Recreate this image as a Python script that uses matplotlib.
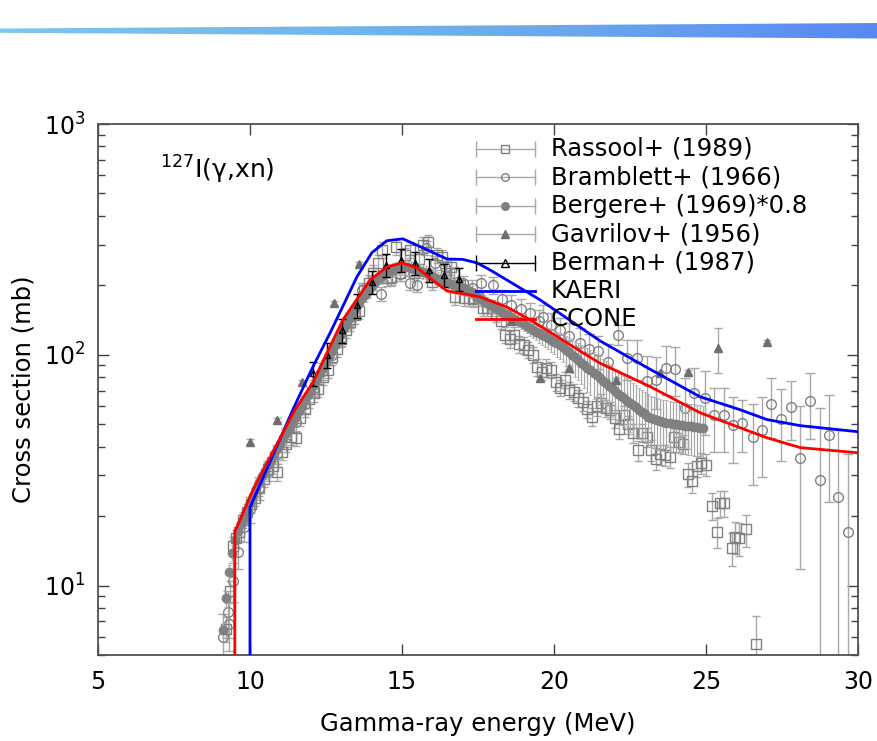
import numpy as np
import matplotlib
matplotlib.use("Agg")
import matplotlib.pyplot as plt
from matplotlib.patches import Polygon

plt.rcParams['font.family'] = ['DejaVu Sans']
plt.rcParams['mathtext.fontset'] = 'dejavusans'

# ---- evaluated curves ----
kaeri_e = [10.0, 10.0, 11.41, 11.87, 12.07, 12.63, 13.52, 14.01, 14.5, 15.03, 15.6, 16.48, 17.0, 17.47, 17.9,
           19.54, 21.51, 23.06, 24.8, 26.12, 27.0, 28.1, 30.0]
kaeri_xs = [1.0, 21.8, 57.8, 78.0, 88.7, 124.0, 218.0, 277.0, 312.0, 318.0, 294.0, 260.0, 259.0, 250.0, 233.0,
            173.0, 115.0, 88.0, 65.8, 57.8, 52.4, 49.3, 46.4]

ccone_e = [9.5, 9.5, 10.1, 11.48, 12.07, 12.53, 13.06, 13.95, 14.5, 15.0, 15.5, 15.92, 16.48, 17.0, 17.57,
           18.45, 19.2, 20.1, 20.95, 21.51, 23.16, 24.8, 27.0, 28.1, 30.0]
ccone_xs = [1.0, 17.1, 26.0, 57.8, 75.7, 102.0, 142.0, 211.0, 240.0, 250.0, 238.0, 215.0, 189.0, 184.0, 178.0,
            161.0, 142.0, 120.0, 102.0, 92.0, 72.8, 56.1, 43.7, 39.6, 37.6]

# ---- Rassool+ (1989) ----
rassool_e = [9.2, 9.35, 9.45, 9.55, 9.65, 9.78, 9.9, 10.02, 10.15, 10.3, 10.45, 10.6, 10.75, 10.9, 11.05, 11.2,
             11.35, 11.5, 11.65, 11.8, 11.95, 12.1, 12.25, 12.4, 12.55, 12.7, 12.85, 13.0, 13.15, 13.3, 13.45,
             13.6, 13.75, 13.9, 14.05, 14.2, 14.35, 14.5, 14.65, 14.8, 14.95, 15.1, 15.25, 15.4, 15.55, 15.7,
             15.85, 16.0, 16.15, 16.3, 16.45, 16.6, 16.75, 16.9, 17.05, 17.2, 17.35, 17.5, 17.65, 17.8, 17.95,
             18.1, 18.25, 18.4, 18.55, 18.7, 18.85, 19.0, 19.15, 19.3, 19.45, 19.6, 19.75, 19.9, 20.05, 20.2,
             20.35, 20.5, 20.65, 20.8, 20.95, 21.1, 21.25, 21.4, 21.55, 21.7, 21.85, 22.0, 22.15, 22.3, 22.45,
             22.6, 22.75, 22.9, 23.05, 23.2, 23.35, 23.5, 23.65, 23.8, 23.95, 24.1, 24.25, 24.4, 24.55, 24.7,
             24.85, 25.0, 25.2, 25.35, 25.45, 25.6, 25.85, 25.95, 26.1, 26.3, 26.65]
rassool_xs = [6.5, 9.5, 14.9, 16.0, 17.1, 19.3, 20.9, 22.5, 24.0, 26.5, 29.0, 32.0, 33.0, 31.0, 38.0, 41.0,
              44.0, 43.5, 53.0, 58.0, 64.0, 68.0, 71.0, 80.0, 86.0, 98.0, 106.0, 117.0, 128.0, 138.0, 148.0,
              155.0, 190.0, 205.0, 226.0, 250.0, 285.0, 215.0, 215.0, 294.0, 226.0, 270.0, 285.0, 226.0, 260.0, 300.0,
              308.0, 207.0, 270.0, 265.0, 225.0, 240.0, 178.0, 200.0, 177.0, 177.0, 175.0, 177.0, 160.0, 160.0, 160.0,
              150.0, 140.0, 122.0, 117.0, 122.0, 111.0, 110.0, 105.0, 100.0, 88.7, 84.5, 88.0, 86.0, 76.0, 72.0,
              78.0, 70.5, 69.0, 65.0, 62.7, 58.0, 54.0, 60.0, 62.0, 58.6, 57.5, 53.0, 47.5, 55.0, 50.0,
              45.6, 38.5, 46.0, 44.0, 38.8, 35.5, 37.0, 36.9, 36.0, 44.0, 42.0, 41.0, 30.3, 28.5, 33.0,
              34.0, 33.4, 22.2, 17.1, 22.8, 22.8, 14.5, 16.3, 16.0, 17.5, 5.6]
rassool_err = [0.8, 1.0, 1.3, 1.4, 1.5, 1.6, 1.7, 1.8, 1.9, 2.1, 2.3, 2.5, 2.6, 2.5, 3.0, 3.2,
               3.4, 3.4, 4.1, 4.5, 5.0, 5.3, 5.5, 6.2, 6.7, 7.6, 8.2, 9.0, 10.0, 11.0, 12.0,
               12.0, 15.0, 16.0, 18.0, 20.0, 22.0, 17.0, 17.0, 23.0, 18.0, 21.0, 22.0, 18.0, 20.0, 23.0,
               24.0, 16.0, 21.0, 20.0, 18.0, 19.0, 14.0, 16.0, 14.0, 14.0, 14.0, 14.0, 13.0, 13.0, 13.0,
               12.0, 11.0, 10.0, 9.5, 10.0, 9.0, 9.0, 8.5, 8.0, 7.5, 7.0, 7.5, 7.0, 6.5, 6.0,
               6.5, 6.0, 6.0, 5.5, 5.5, 5.0, 5.0, 5.5, 5.5, 5.0, 5.0, 4.8, 4.5, 5.0, 4.5,
               4.3, 4.0, 4.3, 4.2, 4.0, 3.8, 3.8, 3.8, 3.8, 4.2, 4.0, 4.0, 3.5, 3.4, 3.6,
               3.6, 3.6, 3.0, 2.6, 3.0, 3.0, 2.4, 2.6, 2.6, 2.8, 1.8]

# ---- Bramblett+ (1966) ----
bramblett_e = [9.1, 9.28, 9.32, 9.45, 9.6, 9.8, 10.0, 10.3, 10.6, 10.9, 11.2, 11.5, 11.8, 12.1, 12.4, 12.7,
               13.0, 13.3, 13.7, 14.0, 14.3, 14.65, 14.95, 15.25, 15.5, 15.8, 16.1, 16.4, 16.7, 17.0, 17.3,
               17.6, 18.0, 18.3, 18.6, 18.9, 19.2, 19.5, 19.65, 19.9, 20.2, 20.5, 20.86, 21.15, 21.45, 21.78,
               22.1, 22.4, 22.73, 23.06, 23.36, 23.7, 23.98, 24.3, 24.62, 24.97, 25.26, 25.6, 25.9, 26.2,
               26.55, 26.84, 27.14, 27.47, 27.8, 28.1, 28.42, 28.75, 29.05, 29.34, 29.67]
bramblett_xs = [6.0, 7.7, 6.8, 10.5, 14.0, 18.0, 21.5, 26.5, 31.5, 37.0, 44.0, 51.0, 61.0, 72.0, 85.0, 100.0,
                118.0, 140.0, 191.0, 205.0, 184.0, 215.0, 224.0, 205.0, 201.0, 290.0, 250.0, 240.0, 225.0, 205.0, 195.0,
                205.0, 201.0, 175.0, 165.0, 158.0, 152.0, 140.0, 146.0, 135.0, 128.0, 120.0, 113.0, 106.0, 104.0, 93.0,
                122.0, 97.0, 97.0, 77.0, 78.0, 88.0, 87.0, 59.0, 68.0, 65.0, 55.0, 55.0, 49.8, 50.8,
                44.2, 47.4, 61.4, 52.8, 59.6, 35.8, 63.0, 28.8, 45.0, 24.3, 17.0]
bramblett_err = [1.5, 1.8, 1.6, 2.0, 2.2, 2.5, 2.8, 3.0, 3.2, 3.5, 4.0, 4.5, 5.0, 6.0, 7.0, 8.0,
                 9.0, 10.0, 13.0, 14.0, 13.0, 15.0, 15.0, 14.0, 14.0, 20.0, 17.0, 16.0, 16.0, 15.0, 15.0,
                 16.0, 17.0, 16.0, 16.0, 16.0, 16.0, 16.0, 18.0, 17.0, 17.0, 17.0, 17.0, 17.0, 17.0, 18.0,
                 12.0, 19.0, 19.0, 22.0, 20.0, 21.0, 21.0, 20.0, 20.0, 20.0, 17.0, 17.0, 16.0, 13.0,
                 17.0, 18.0, 18.0, 18.0, 17.0, 24.0, 20.0, 30.0, 22.0, 23.0, 20.0]

# ---- Bergere+ (1969), scaled by 0.8 (0.1 MeV steps from 9.1 to 24.9) ----
bergere_e = np.round(np.arange(9.1, 24.95, 0.1), 1)
bergere_xs = [6.4, 8.8, 11.4, 13.9, 15.8, 17.2, 18.5, 19.7, 21.0,
              22.7, 24.5, 26.2, 28.0, 29.7, 31.5, 33.2, 35.0, 37.0, 39.0,
              41.2, 43.5, 46.0, 48.5, 51.2, 54.0, 57.0, 60.0, 63.5, 67.0,
              70.5, 74.0, 78.5, 83.0, 88.0, 93.0, 98.5, 104.0, 110.0, 116.0,
              123.0, 130.0, 137.5, 145.0, 152.5, 160.0, 168.0, 176.0, 184.0, 192.0,
              199.0, 206.0, 212.0, 218.0, 223.0, 227.0, 231.0, 234.0, 236.0, 238.0,
              239.0, 240.0, 239.0, 238.0, 236.0, 234.0, 231.5, 229.0, 225.5, 222.0,
              219.0, 216.0, 213.0, 210.0, 207.5, 205.0, 202.5, 200.0, 198.0, 196.0,
              194.0, 192.0, 189.5, 187.0, 182.0, 177.0, 174.0, 171.0, 168.0, 165.0,
              162.0, 159.0, 156.0, 153.0, 150.5, 148.0, 145.5, 143.0, 140.5, 138.0,
              135.5, 133.0, 130.5, 128.0, 126.0, 124.0, 122.0, 120.0, 118.0, 116.0,
              114.0, 112.0, 110.0, 108.0, 105.0, 102.5, 100.0, 97.4, 95.0, 92.5,
              90.0, 87.9, 85.7, 83.5, 81.4, 79.3, 77.3, 75.3, 73.4, 71.5,
              69.7, 67.9, 66.3, 64.8, 63.3, 61.9, 60.5, 59.1, 57.7, 56.4,
              55.2, 54.0, 53.2, 52.5, 52.0, 51.5, 51.1, 50.8, 50.5, 50.2,
              50.0, 49.8, 49.5, 49.3, 49.1, 48.9, 48.7, 48.5, 48.3, 48.0]
bergere_err = [0.5, 0.7, 0.9, 1.1, 1.3, 1.4, 1.5, 1.6, 1.7,
               1.8, 2.0, 2.1, 2.2, 2.4, 2.5, 2.7, 2.8, 3.0, 3.1,
               3.3, 3.5, 3.7, 3.9, 4.1, 4.3, 4.6, 4.8, 5.1, 5.4,
               5.6, 5.9, 6.3, 6.6, 7.0, 7.4, 7.9, 8.3, 8.8, 9.3,
               9.8, 10.4, 11.0, 11.6, 12.2, 12.8, 13.4, 14.1, 14.7, 15.4,
               14.0, 14.4, 14.8, 15.3, 15.6, 15.9, 16.2, 16.4, 16.5, 16.7,
               16.7, 16.8, 16.7, 16.7, 16.5, 16.4, 16.2, 16.0, 15.8, 15.5,
               15.3, 15.1, 14.9, 14.7, 14.5, 14.4, 14.2, 14.0, 13.9, 13.7,
               11.6, 11.5, 11.4, 11.2, 10.9, 10.6, 10.4, 10.3, 10.1, 9.9,
               9.7, 9.5, 9.4, 9.2, 9.0, 8.9, 8.7, 8.6, 8.4, 8.3,
               8.5, 9.0, 9.5, 10.0, 10.5, 11.0, 11.5, 12.0, 12.5, 13.0,
               13.5, 14.0, 14.5, 15.0, 15.5, 16.0, 16.5, 17.0, 17.5, 18.0,
               18.5, 19.0, 19.0, 19.0, 19.0, 19.0, 19.0, 18.5, 18.0, 17.5,
               17.0, 16.8, 16.5, 16.0, 15.7, 15.4, 15.0, 14.7, 14.4, 14.0,
               13.8, 13.5, 13.3, 13.1, 13.0, 12.9, 12.8, 12.7, 12.6, 12.5,
               12.5, 12.4, 12.4, 12.3, 12.3, 12.2, 12.2, 12.1, 12.1, 12.0]

# ---- Gavrilov+ (1956) ----
gavrilov_e = [10.0, 10.9, 11.7, 12.75, 13.6, 18.6, 19.55, 20.5, 22.05, 23.5, 24.4, 25.4, 27.0]
gavrilov_xs = [42.0, 52.0, 76.0, 168.0, 248.0, 140.0, 79.0, 88.0, 78.0, 83.5, 84.0, 107.0, 114.0]
gavrilov_err = [1.0, 1.0, 1.5, 3.0, 4.0, 3.0, 1.5, 1.5, 1.5, 1.5, 1.5, 24.0, 2.0]

# ---- Berman+ (1987) ----
berman_e = [12.07, 12.53, 13.03, 13.52, 14.01, 14.48, 14.97, 15.43, 15.89, 16.38, 16.86]
berman_xs = [83.5, 100.0, 128.0, 164.0, 207.0, 245.0, 258.0, 250.0, 234.0, 222.0, 213.0]
berman_err = [10.0, 12.0, 15.0, 19.0, 24.0, 28.0, 30.0, 29.0, 27.0, 26.0, 25.0]

legend_labels = ['Rassool+ (1989)', 'Bramblett+ (1966)', 'Bergere+ (1969)*0.8',
                 'Gavrilov+ (1956)', 'Berman+ (1987)', 'KAERI', 'CCONE']

W, H = 878, 741
fig = plt.figure(figsize=(W / 100, H / 100), dpi=100)

# tapered gradient stripe across the top
bax = fig.add_axes([0, 0, 1, 1], zorder=0)
bax.set_xlim(0, W)
bax.set_ylim(H, 0)
bax.axis('off')
grad = np.linspace(0, 1, 256).reshape(1, -1)
cmap = matplotlib.colors.LinearSegmentedColormap.from_list(
    'band', ['#80c5ea', '#74b8ec', '#6aa6ee', '#5888f3'])
im = bax.imshow(grad, cmap=cmap, aspect='auto', extent=[0, W, 40, 20])
stripe = Polygon([[0, 28.5], [W, 23.0], [W, 38.5], [0, 32.8]], closed=True,
                 transform=bax.transData, facecolor='none', edgecolor='none')
bax.add_patch(stripe)
im.set_clip_path(stripe)

ax = fig.add_axes([98 / W, 86 / H, 760 / W, 531 / H], zorder=1)
ax.set_yscale('log', nonpositive='clip')

gray = '#808080'
egray = '#a8a8a8'

ax.errorbar(rassool_e, rassool_xs, yerr=rassool_err, fmt='s', ms=6.5, mfc='none', mec=gray, mew=1.0,
            ecolor=egray, elinewidth=1.0, capsize=3, capthick=1.0, zorder=2)
ax.errorbar(bramblett_e, bramblett_xs, yerr=bramblett_err, fmt='o', ms=7, mfc='none', mec=gray, mew=1.0,
            ecolor=egray, elinewidth=1.0, capsize=3.5, capthick=1.0, zorder=2)
ax.errorbar(bergere_e, bergere_xs, yerr=bergere_err, fmt='o', ms=6.5, mfc=gray, mec=gray, mew=0.5,
            ecolor=egray, elinewidth=0.9, capsize=1.5, capthick=0.9, zorder=3)
ax.errorbar(gavrilov_e, gavrilov_xs, yerr=gavrilov_err, fmt='^', ms=6, mfc='#6e6e6e', mec='#6e6e6e',
            ecolor=egray, elinewidth=1.0, capsize=3, capthick=1.0, zorder=3)
ax.errorbar(berman_e, berman_xs, yerr=berman_err, fmt='^', ms=5, mfc='none', mec='black', mew=1.0,
            ecolor='black', elinewidth=1.0, capsize=3, capthick=1.0, zorder=4)

ax.plot(kaeri_e, kaeri_xs, color='#0000ff', lw=2.0, zorder=5)
ax.plot(ccone_e, ccone_xs, color='#ff0000', lw=2.0, zorder=5)

ax.set_xlim(5, 30)
ax.set_ylim(5, 1000)
ax.set_xticks([5, 10, 15, 20, 25, 30])
ax.set_xticklabels(['5', '10', '15', '20', '25', '30'])
ax.tick_params(which='both', direction='in', top=True, right=True, color='#404040', width=1.0,
               labelsize=17)
ax.tick_params(which='major', length=8)
ax.tick_params(which='minor', length=5)
ax.tick_params(axis='x', pad=11)
ax.tick_params(axis='y', pad=9)
for s in ax.spines.values():
    s.set_color('#505050')
    s.set_linewidth(1.3)

ax.set_xlabel('Gamma-ray energy (MeV)', fontsize=17.5, labelpad=13)
ax.set_ylabel('Cross section (mb)', fontsize=17.5, labelpad=6)

ax.text(0.082, 0.913, r'$^{127}$I(γ,xn)', transform=ax.transAxes, fontsize=18, va='center', ha='left')

# gnuplot-style key with horizontal error-bar samples
x0, x1, xt = 0.497, 0.575, 0.596
rows = [0.953 - 0.0535 * i for i in range(7)]
styles = [('s', 'none', gray, egray), ('o', 'none', gray, egray), ('o', gray, gray, egray),
          ('^', '#6e6e6e', '#6e6e6e', egray), ('^', 'none', 'black', 'black')]
for yy, (mk, fc, ec, lc) in zip(rows[:5], styles):
    ax.plot([x0, x1], [yy, yy], color=lc, lw=1.0, transform=ax.transAxes, zorder=6, clip_on=False)
    ax.plot([x0, x1], [yy, yy], ls='none', marker='|', ms=11, mew=1.0, color=lc,
            transform=ax.transAxes, zorder=6, clip_on=False)
    ax.plot([(x0 + x1) / 2], [yy], ls='none', marker=mk, ms=5.5, mfc=fc, mec=ec, mew=1.0,
            transform=ax.transAxes, zorder=6, clip_on=False)
ax.plot([x0, x1], [rows[5]] * 2, color='#0000ff', lw=2.0, transform=ax.transAxes, zorder=6)
ax.plot([x0, x1], [rows[6]] * 2, color='#ff0000', lw=2.0, transform=ax.transAxes, zorder=6)
for yy, lab in zip(rows, legend_labels):
    ax.text(xt, yy, lab, transform=ax.transAxes, fontsize=17.5, va='center', ha='left', zorder=7)

fig.savefig('out.png', dpi=100)
